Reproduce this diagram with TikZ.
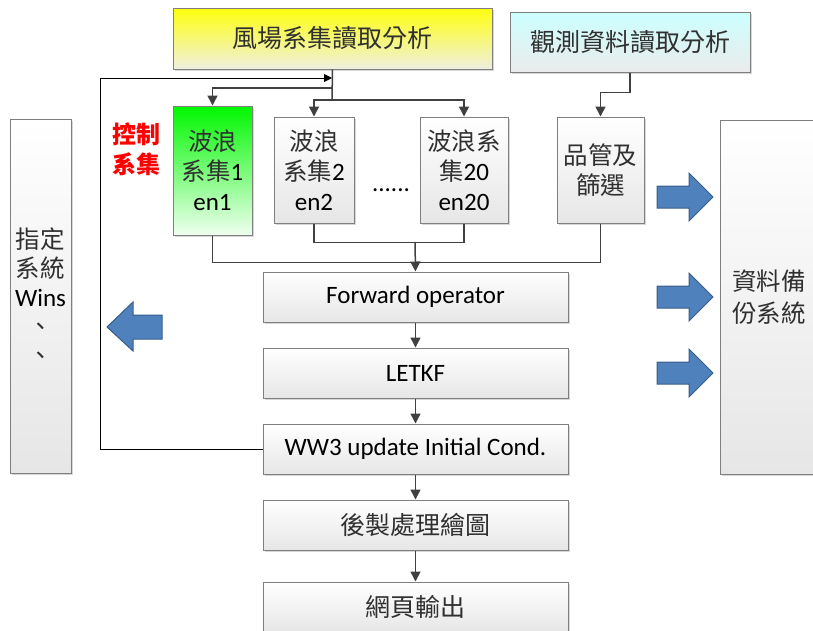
\documentclass[tikz,border=0pt]{standalone}
\usepackage{fontspec}
\setmainfont{Carlito}
\newfontfamily\cjk{Noto Sans CJK TC}
\usetikzlibrary{arrows.meta,shadows}

\definecolor{edgegray}{HTML}{7F7F7F}
\definecolor{linegray}{HTML}{404040}
\definecolor{boxbottom}{HTML}{E6E6E6}
\definecolor{blockfill}{HTML}{4F81BD}
\definecolor{blockedge}{HTML}{385D8A}
\definecolor{cjkgray}{HTML}{303030}

\tikzset{
  box/.style={draw=edgegray, line width=1pt, rectangle, align=center,
    top color=white, bottom color=boxbottom,
    drop shadow={shadow xshift=2pt, shadow yshift=-2pt, fill=black!35, opacity=0.45},
    font=\fontsize{25}{30}\selectfont, text=black, inner sep=2pt},
  yellowbox/.style={box, top color=yellow!95!white, bottom color=yellow!8!boxbottom!70!white},
  cyanbox/.style={box, top color=cyan!20!white, bottom color=boxbottom!80!white},
  greenbox/.style={box, top color=green!95!black!60!green, bottom color=green!6!white},
  link/.style={draw=linegray, line width=1.5pt},
  flow/.style={link, -{Triangle[length=10pt,width=10pt]}},
  loopline/.style={draw=black, line width=1pt, -{Triangle[length=8pt,width=8pt]}},
  blockarrow/.style={fill=blockfill, draw=blockedge, line width=1pt, line join=miter},
  redlabel/.style={font=\cjk\bfseries\fontsize{24}{30}\selectfont, text=red, align=center}
}
\newcommand{\zh}[1]{{\cjk\color{cjkgray}\fontsize{24.5}{30}\selectfont#1}}

\begin{document}
\begin{tikzpicture}[x=1pt,y=-1pt]
\useasboundingbox (0,0) rectangle (813,630);

% analysis inputs
\node[yellowbox, minimum width=319pt, minimum height=61pt] (wind) at (332.5,38.5)
  {\zh{\fontsize{25}{30}\selectfont 風場系集讀取分析}};
\node[cyanbox, minimum width=240pt, minimum height=60pt] (obs) at (630,42)
  {\zh{\fontsize{25}{30}\selectfont 觀測資料讀取分析}};

% ensemble members
\node[greenbox, minimum width=79pt, minimum height=129pt] (en1) at (212.5,170.5)
  {\zh{波浪}\\\zh{系集}1\\en1};
\node[box, minimum width=80pt, minimum height=106pt] (en2) at (314,170)
  {\zh{波浪}\\\zh{系集}2\\en2};
\node[font=\fontsize{25}{30}\selectfont] (dots) at (391,190) {......};
\node[box, minimum width=88pt, minimum height=106pt] (en20) at (464,170)
  {\zh{波浪系}\\\zh{集}20\\en20};
\node[box, minimum width=87pt, minimum height=106pt] (qc) at (600.5,170)
  {\zh{品管及}\\\zh{篩選}};
\node[redlabel] (ctrl) at (136,149) {控制\\系集};

% side systems
\node[box, minimum width=61pt, minimum height=354pt, font=\fontsize{25}{29}\selectfont] (wins) at (40.5,296)
  {\zh{指定}\\\zh{系統}\\Wins\\\zh{、}\\\zh{、}};
\node[box, minimum width=98pt, minimum height=354pt, font=\fontsize{25}{32}\selectfont] (backup) at (769,297)
  {\zh{資料備}\\\zh{份系統}};

% assimilation chain
\node[box, minimum width=305pt, minimum height=50pt] (fwd) at (415.5,297) {Forward operator};
\node[box, minimum width=305pt, minimum height=50pt] (letkf) at (415.5,373) {LETKF};
\node[box, minimum width=305pt, minimum height=50pt] (ww3) at (415.5,449) {WW3 update Initial Cond.};
\node[box, minimum width=305pt, minimum height=50pt] (post) at (415.5,525)
  {\zh{\fontsize{25}{30}\selectfont 後製處理繪圖}};
\node[box, minimum width=305pt, minimum height=50pt] (web) at (415.5,607)
  {\zh{\fontsize{25}{30}\selectfont 網頁輸出}};

% junction points
\coordinate (j1) at (332,88);
\coordinate (j2) at (332,100);
\coordinate (j3) at (415,242);
\coordinate (loopcorner) at (100,78);
\coordinate (looptip) at (332,78);

% wind ensemble fan-out
\draw[link] (wind.south) -- (j2);
\draw[flow] (j1) -| (en1.north);
\draw[flow] (j2) -| (en2.north);
\draw[flow] (j2) -| (en20.north);

% observations to quality control
\draw[flow] (obs.south) -- ++(0,20) -| (qc.north);

% members and observations into the forward operator
\draw[link] (en2.south) -- ++(0,19) -| (en20.south);
\draw[link] (en1.south) -- ++(0,27) -| (qc.south);
\draw[flow] (j3) -- (fwd.north);

% main chain
\draw[flow] (fwd) -- (letkf);
\draw[flow] (letkf) -- (ww3);
\draw[flow] (ww3) -- (post);
\draw[flow] (post) -- (web);

% cycling loop back to the top
\draw[loopline] (ww3.west) -| (loopcorner) -- (looptip);

% block arrows to the side systems
\draw[blockarrow] (107,327) -- (133,302) -- (133,315) -- (162,315) -- (162,339)
  -- (133,339) -- (133,351) -- cycle;
\foreach \t in {197,297,373}{
  \draw[blockarrow] (657,\t-11) -- (689,\t-11) -- (689,\t-24) -- (713,\t)
    -- (689,\t+24) -- (689,\t+11) -- (657,\t+11) -- cycle;
}
\end{tikzpicture}
\end{document}
